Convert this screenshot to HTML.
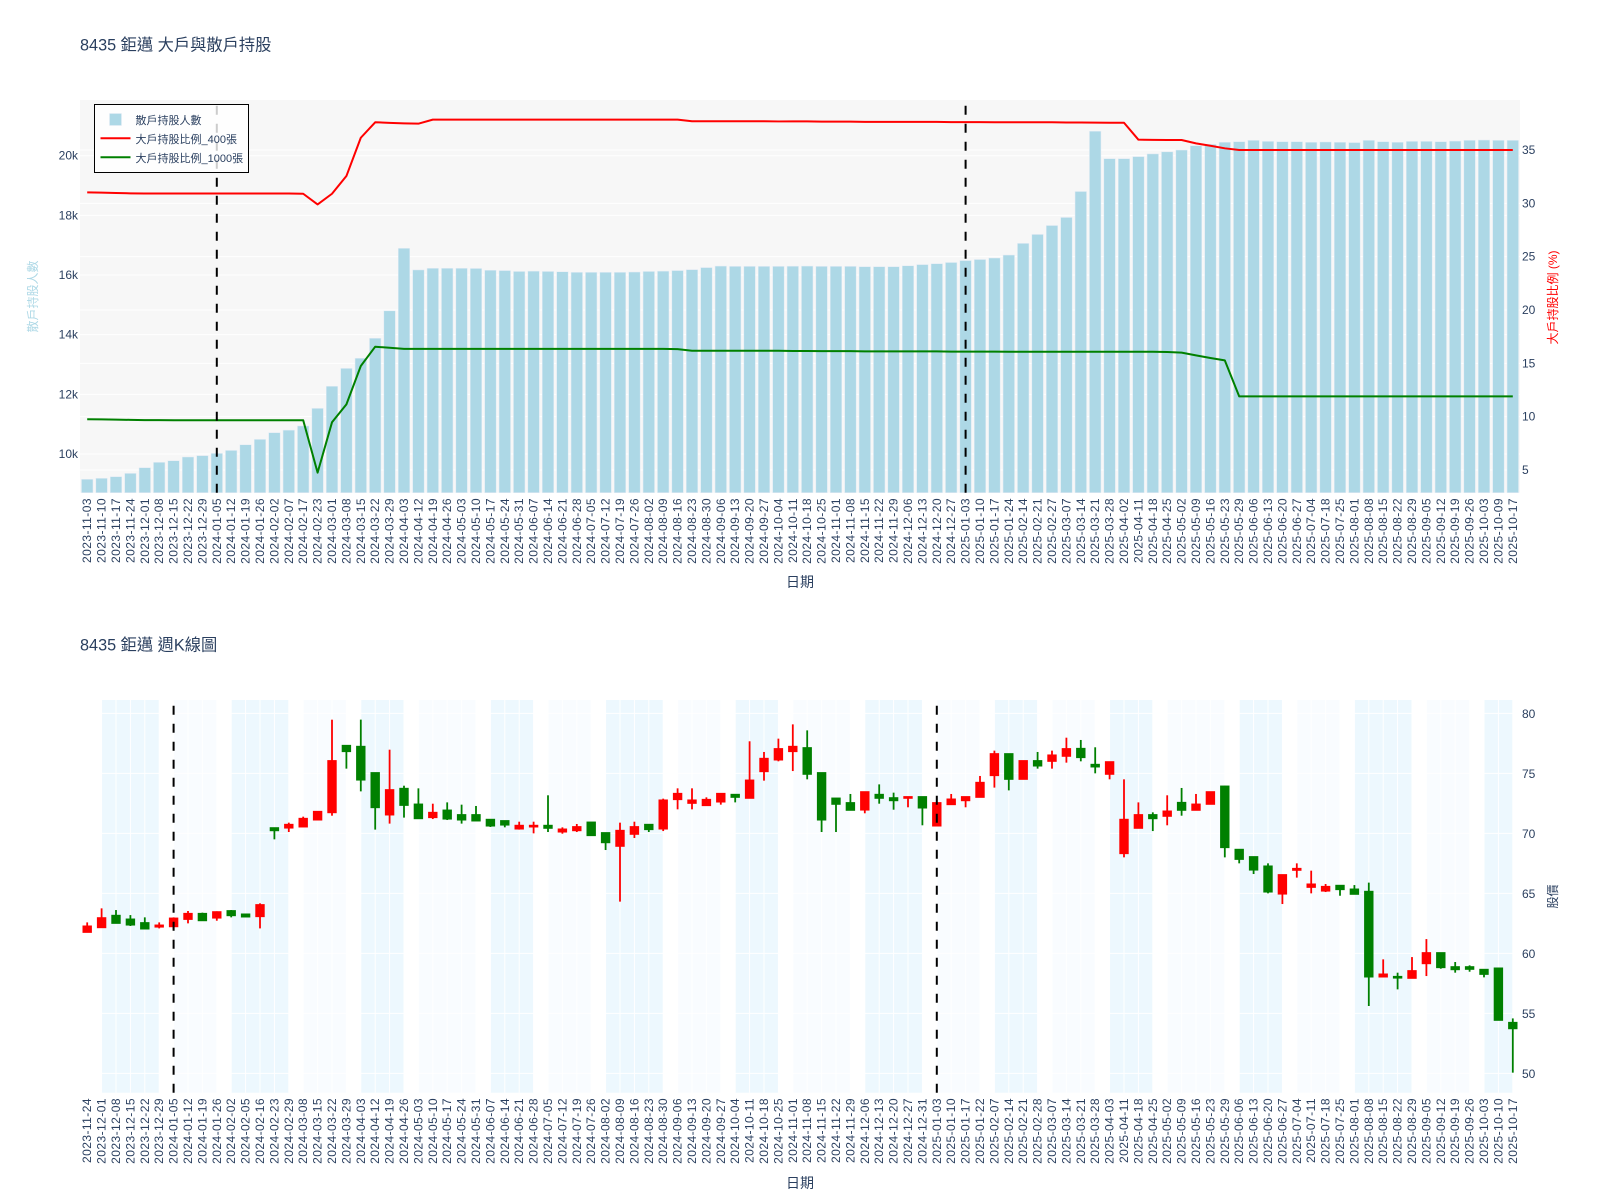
<!DOCTYPE html>
<html lang="zh-Hant">
<head>
<meta charset="utf-8">
<title>8435 鉅邁 大戶與散戶持股</title>
<style>
html,body{margin:0;padding:0;background:#fff;width:1600px;height:1200px;overflow:hidden}
svg{display:block;font-family:"Liberation Sans","Noto Sans CJK TC",sans-serif}
text{fill:#2a3f5f}
.tick{font-size:12px}
.xtick{font-size:12px;letter-spacing:.45px}
</style>
</head>
<body>
<svg id="chart" width="1600" height="1200" viewBox="0 0 1600 1200" xmlns="http://www.w3.org/2000/svg">
  <rect x="0" y="0" width="1600" height="1200" fill="#fff"/>
  <g id="topChart">
    <text x="80" y="50.5" font-size="16.25">8435 鉅邁 大戶與散戶持股</text>
    <rect x="80" y="100" width="1440" height="392.7" fill="#f7f7f7"/>
    <g id="topGrid"></g>
    <g id="topBars"></g>
    <g id="topLines"></g>
    <g id="topMarkers"></g>
    <g id="topTicks"></g>
    <text x="800" y="587" font-size="14" text-anchor="middle">日期</text>
    <text transform="translate(37 296.5) rotate(-90)" font-size="12" text-anchor="middle" style="fill:#add8e6">散戶持股人數</text>
    <text transform="translate(1557 297.5) rotate(-90)" font-size="12" text-anchor="middle" style="fill:#ff0000">大戶持股比例 (%)</text>
    <g>
      <rect x="94.5" y="104.5" width="154" height="68" fill="rgba(255,255,255,.8)" stroke="#000" stroke-width="1"/>
      <rect x="109.5" y="113.5" width="12" height="12" fill="#add8e6" stroke="#e5ecf6" stroke-width=".5"/>
      <text x="135.5" y="124" font-size="11">散戶持股人數</text>
      <line x1="100.5" x2="130.5" y1="138.3" y2="138.3" stroke="#ff0000" stroke-width="2"/>
      <text x="135.5" y="143" font-size="11">大戶持股比例_400張</text>
      <line x1="100.5" x2="130.5" y1="157.3" y2="157.3" stroke="#008000" stroke-width="2"/>
      <text x="135.5" y="162" font-size="11">大戶持股比例_1000張</text>
    </g>
  </g>
  <g id="bottomChart">
    <text x="80" y="650.5" font-size="16.25">8435 鉅邁 週K線圖</text>
    <g id="botBands"></g>
    <g id="botGrid"></g>
    <g id="botCandles"></g>
    <g id="botMarkers"></g>
    <g id="botTicks"></g>
    <text x="800" y="1188" font-size="14" text-anchor="middle">日期</text>
    <text transform="translate(1557 896.5) rotate(-90)" font-size="12" text-anchor="middle">股價</text>
  </g>
</svg>
<script>
/* ---------- holders chart data ---------- */
const topDates = ['2023-11-03','2023-11-10','2023-11-17','2023-11-24','2023-12-01','2023-12-08','2023-12-15','2023-12-22','2023-12-29','2024-01-05','2024-01-12','2024-01-19','2024-01-26','2024-02-02','2024-02-07','2024-02-17','2024-02-23','2024-03-01','2024-03-08','2024-03-15','2024-03-22','2024-03-29','2024-04-03','2024-04-12','2024-04-19','2024-04-26','2024-05-03','2024-05-10','2024-05-17','2024-05-24','2024-05-31','2024-06-07','2024-06-14','2024-06-21','2024-06-28','2024-07-05','2024-07-12','2024-07-19','2024-07-26','2024-08-02','2024-08-09','2024-08-16','2024-08-23','2024-08-30','2024-09-06','2024-09-13','2024-09-20','2024-09-27','2024-10-04','2024-10-11','2024-10-18','2024-10-25','2024-11-01','2024-11-08','2024-11-15','2024-11-22','2024-11-29','2024-12-06','2024-12-13','2024-12-20','2024-12-27','2025-01-03','2025-01-10','2025-01-17','2025-01-24','2025-02-14','2025-02-21','2025-02-27','2025-03-07','2025-03-14','2025-03-21','2025-03-28','2025-04-02','2025-04-11','2025-04-18','2025-04-25','2025-05-02','2025-05-09','2025-05-16','2025-05-23','2025-05-29','2025-06-06','2025-06-13','2025-06-20','2025-06-27','2025-07-04','2025-07-18','2025-07-25','2025-08-01','2025-08-08','2025-08-15','2025-08-22','2025-08-29','2025-09-05','2025-09-12','2025-09-19','2025-09-26','2025-10-03','2025-10-09','2025-10-17'];
const retailHolders = [9152,9185,9240,9350,9542,9720,9775,9900,9945,10020,10120,10310,10490,10715,10800,10940,11530,12270,12870,13210,13880,14800,16895,16170,16225,16225,16225,16220,16160,16150,16120,16130,16120,16110,16090,16090,16090,16090,16100,16120,16130,16150,16180,16250,16300,16290,16290,16290,16290,16295,16300,16290,16290,16290,16280,16280,16280,16310,16350,16380,16420,16485,16520,16570,16670,17060,17360,17660,17930,18800,20820,19900,19900,19970,20060,20130,20190,20335,20380,20450,20470,20515,20480,20470,20470,20450,20460,20450,20440,20515,20470,20450,20480,20480,20470,20490,20515,20525,20515,20515];
const largeHolder400 = [31.03,31.0,30.97,30.94,30.92,30.92,30.92,30.92,30.92,30.92,30.92,30.92,30.92,30.92,30.92,30.9,29.9,30.9,32.56,36.15,37.6,37.55,37.5,37.47,37.85,37.85,37.85,37.85,37.85,37.85,37.85,37.85,37.85,37.85,37.85,37.85,37.85,37.85,37.85,37.85,37.85,37.85,37.7,37.7,37.7,37.7,37.7,37.7,37.68,37.68,37.68,37.66,37.66,37.66,37.64,37.64,37.64,37.64,37.64,37.64,37.62,37.62,37.62,37.6,37.6,37.6,37.6,37.6,37.58,37.58,37.57,37.56,37.56,35.97,35.95,35.94,35.94,35.62,35.4,35.16,35.0,35,35,35,35,35,35,35,35,35,35,35,35,35,35,35,35,35,35,35];
const largeHolder1000 = [9.76,9.74,9.72,9.7,9.68,9.67,9.66,9.66,9.66,9.66,9.66,9.66,9.66,9.66,9.66,9.66,4.75,9.47,11.15,14.75,16.56,16.46,16.36,16.36,16.36,16.36,16.36,16.36,16.36,16.36,16.36,16.36,16.36,16.36,16.36,16.36,16.36,16.36,16.36,16.36,16.36,16.33,16.18,16.18,16.18,16.18,16.18,16.18,16.18,16.16,16.16,16.14,16.14,16.14,16.12,16.12,16.12,16.12,16.12,16.12,16.1,16.1,16.1,16.1,16.08,16.08,16.08,16.08,16.08,16.08,16.08,16.08,16.08,16.08,16.08,16.06,16.0,15.75,15.5,15.28,11.9,11.9,11.9,11.9,11.9,11.9,11.9,11.9,11.9,11.9,11.9,11.9,11.9,11.9,11.9,11.9,11.9,11.9,11.9,11.9];
const leftTicks = [10000,12000,14000,16000,18000,20000];
const rightTicks = [5,10,15,20,25,30,35];
const eventDates = ['2024-01-05','2025-01-03'];

/* ---------- candlestick chart data ---------- */
const kDates = ['2023-11-24','2023-12-01','2023-12-08','2023-12-15','2023-12-22','2023-12-29','2024-01-05','2024-01-12','2024-01-19','2024-01-26','2024-02-02','2024-02-05','2024-02-16','2024-02-23','2024-02-29','2024-03-08','2024-03-15','2024-03-22','2024-03-29','2024-04-03','2024-04-12','2024-04-19','2024-04-26','2024-05-03','2024-05-10','2024-05-17','2024-05-24','2024-05-31','2024-06-07','2024-06-14','2024-06-21','2024-06-28','2024-07-05','2024-07-12','2024-07-19','2024-07-26','2024-08-02','2024-08-09','2024-08-16','2024-08-23','2024-08-30','2024-09-06','2024-09-13','2024-09-20','2024-09-27','2024-10-04','2024-10-11','2024-10-18','2024-10-25','2024-11-01','2024-11-08','2024-11-15','2024-11-22','2024-11-29','2024-12-06','2024-12-13','2024-12-20','2024-12-27','2024-12-31','2025-01-03','2025-01-10','2025-01-17','2025-01-22','2025-02-07','2025-02-14','2025-02-21','2025-02-28','2025-03-07','2025-03-14','2025-03-21','2025-03-28','2025-04-03','2025-04-11','2025-04-18','2025-04-25','2025-05-02','2025-05-09','2025-05-16','2025-05-23','2025-05-29','2025-06-06','2025-06-13','2025-06-20','2025-06-27','2025-07-04','2025-07-11','2025-07-18','2025-07-25','2025-08-01','2025-08-08','2025-08-15','2025-08-22','2025-08-29','2025-09-05','2025-09-12','2025-09-19','2025-09-26','2025-10-03','2025-10-10','2025-10-17'];
const kOpen = [61.75,62.14,63.17,62.86,62.56,62.19,62.22,62.83,63.33,62.94,63.56,63.28,63.06,70.47,70.44,70.53,71.11,71.72,77.33,77.25,75.06,71.53,73.75,72.44,71.31,71.94,71.56,71.56,71.17,71.06,70.36,70.53,70.67,70.11,70.22,70.94,70.06,68.92,69.92,70.75,70.36,72.81,72.5,72.31,72.61,73.25,72.92,75.14,76.11,76.81,77.14,75.06,72.94,72.56,71.94,73.25,72.97,72.92,73.06,70.61,72.39,72.72,73.0,74.81,76.64,74.5,76.06,76.0,76.42,77.08,75.75,74.92,68.31,70.42,71.56,71.42,72.58,71.92,72.42,73.94,68.67,68.06,67.28,64.94,66.92,65.5,65.19,65.67,65.36,65.17,58.03,58.08,57.92,59.14,60.06,58.89,58.89,58.67,58.78,54.25];
const kHigh = [62.58,63.75,63.61,63.19,63.0,62.58,63.0,63.53,63.39,63.5,63.61,63.28,64.17,70.47,70.89,71.39,71.83,79.47,77.33,79.47,75.06,76.97,73.97,73.75,72.47,72.58,72.39,72.28,71.17,71.06,70.97,70.97,73.17,70.5,70.78,70.94,70.06,70.89,70.97,70.78,72.89,73.75,73.75,73.0,73.33,73.25,77.67,76.78,77.89,79.08,78.58,75.06,72.94,73.28,73.47,74.08,73.39,73.06,73.06,72.56,73.28,73.06,74.78,76.89,76.64,76.06,76.78,76.89,77.97,77.78,77.17,75.97,74.5,72.58,71.75,73.17,73.78,73.28,73.47,73.97,68.67,68.06,67.5,66.56,67.5,66.89,65.78,65.67,65.69,65.89,59.5,58.39,59.69,61.19,60.06,59.28,59.0,58.67,58.78,54.58];
const kLow = [61.75,62.14,62.5,62.28,62.03,62.08,62.0,62.5,62.72,62.72,63.0,63.03,62.08,69.5,70.11,70.53,71.11,71.47,75.39,73.5,70.31,70.81,71.31,71.22,71.19,71.11,70.81,71.03,70.53,70.5,70.31,70.0,70.11,69.97,70.11,69.78,68.61,64.31,69.61,70.11,70.19,72.0,72.0,72.31,72.39,72.58,72.92,74.39,76.0,75.19,74.5,70.11,70.11,71.92,71.67,72.47,71.97,72.17,70.67,70.61,72.39,72.17,73.0,73.81,73.58,74.5,75.39,75.39,75.89,76.0,75.0,74.5,68.0,70.42,70.19,70.67,71.47,71.92,72.42,68.0,67.5,66.61,65.0,64.11,66.31,65.0,65.11,64.8,64.92,55.61,58.03,57.0,57.92,58.11,58.72,58.39,58.47,58.0,54.42,50.06];
const kClose = [62.28,62.97,62.5,62.36,62.03,62.36,62.94,63.33,62.72,63.47,63.14,63.03,64.06,70.22,70.75,71.25,71.83,76.06,76.81,74.44,72.14,73.64,72.33,71.22,71.75,71.19,71.11,71.03,70.61,70.69,70.67,70.67,70.42,70.36,70.56,69.81,69.22,70.25,70.56,70.31,72.78,73.33,72.78,72.83,73.33,73.0,74.44,76.25,77.06,77.25,74.92,71.11,72.42,71.92,73.47,72.92,72.72,73.06,72.11,72.56,72.86,73.06,74.25,76.64,74.5,76.06,75.61,76.53,77.06,76.31,75.53,75.97,71.17,71.56,71.22,71.86,71.92,72.44,73.47,68.81,67.83,66.94,65.11,66.56,67.08,65.78,65.58,65.31,64.92,58.03,58.28,57.94,58.56,60.06,58.81,58.64,58.67,58.25,54.42,53.72];
const priceTicks = [50,55,60,65,70,75,80];

/* ---------- axis functions ---------- */
const plotLeft = 80, plotWidth = 1440;
const topPlotTop = 100, topPlotBottom = 492.7;
const botPlotTop = 700, botPlotBottom = 1092.7;
const leftRange = [8703, 21867];
const rightRange = [2.87, 39.69];
const priceRange = [48.39, 81.11];
function xTop(i){ return plotLeft + plotWidth * (i + 0.5) / topDates.length; }
function xBot(i){ return plotLeft + plotWidth * (i + 0.5) / kDates.length; }
function scaleY(v, range, top, bottom){ return bottom - (v - range[0]) / (range[1] - range[0]) * (bottom - top); }
function yLeft(v){ return scaleY(v, leftRange, topPlotTop, topPlotBottom); }
function yRight(v){ return scaleY(v, rightRange, topPlotTop, topPlotBottom); }
function yPrice(v){ return scaleY(v, priceRange, botPlotTop, botPlotBottom); }

const NS = 'http://www.w3.org/2000/svg';
function mk(parentId, tag, attrs, text){
  const el = document.createElementNS(NS, tag);
  for (const k in attrs) el.setAttribute(k, attrs[k]);
  if (text !== undefined) el.textContent = text;
  document.getElementById(parentId).appendChild(el);
  return el;
}

/* ---------- holders chart ---------- */
leftTicks.forEach(function(v){
  const g = mk('topGrid', 'line', {x1: plotLeft, x2: plotLeft + plotWidth, y1: yLeft(v), y2: yLeft(v), stroke: '#fff', 'stroke-width': 1});
  
  
  const t = mk('topTicks', 'text', {class: 'tick', x: 78, y: yLeft(v) + 4, 'text-anchor': 'end'}, (v / 1000) + 'k');
  
  
});
rightTicks.forEach(function(v){
  const g = mk('topGrid', 'line', {x1: plotLeft, x2: plotLeft + plotWidth, y1: yRight(v), y2: yRight(v), stroke: '#fff', 'stroke-width': 1});
  
  
  const t = mk('topTicks', 'text', {class: 'tick', x: 1522, y: yRight(v) + 4}, String(v));
  
  
});
retailHolders.forEach(function(v, i){
  const w = plotWidth / topDates.length * 0.8;
  const b = mk('topBars', 'rect', {x: xTop(i) - w / 2, y: yLeft(v), width: w, height: topPlotBottom - yLeft(v), fill: '#add8e6', stroke: '#e5ecf6', 'stroke-width': 0.5});
  
  
});
const line400 = mk('topLines', 'polyline', {points: largeHolder400.map(function(v, i){ return xTop(i) + ',' + yRight(v); }).join(' '), fill: 'none', stroke: '#ff0000', 'stroke-width': 2, 'stroke-linejoin': 'round'});


const line1000 = mk('topLines', 'polyline', {points: largeHolder1000.map(function(v, i){ return xTop(i) + ',' + yRight(v); }).join(' '), fill: 'none', stroke: '#008000', 'stroke-width': 2, 'stroke-linejoin': 'round'});


eventDates.forEach(function(d){
  const x = xTop(topDates.indexOf(d));
  const m = mk('topMarkers', 'line', {x1: x, x2: x, y1: topPlotBottom, y2: topPlotTop, stroke: '#000', 'stroke-width': 2, 'stroke-dasharray': '9,9'});
  
  
});
topDates.forEach(function(d, i){
  const x = xTop(i) + 4;
  const t = mk('topTicks', 'text', {class: 'xtick', x: x, y: 498, 'text-anchor': 'end', transform: 'rotate(-90 ' + x + ' 498)'}, d);
  
  
});

/* ---------- candlestick chart ---------- */
(function(){
  let start = 0;
  for (let i = 1; i <= kDates.length; i++) {
    const prev = kDates[i - 1].slice(0, 7);
    if (i === kDates.length || kDates[i].slice(0, 7) !== prev) {
      const month = parseInt(prev.slice(5), 10);
      const band = mk('botBands', 'rect', {x: xBot(start), y: botPlotTop, width: xBot(i - 1) - xBot(start), height: botPlotBottom - botPlotTop, fill: month % 2 === 0 ? '#edf8fe' : '#f9fcff'});
      
      
      start = i;
    }
  }
})();
priceTicks.forEach(function(v){
  const g = mk('botGrid', 'line', {x1: plotLeft, x2: plotLeft + plotWidth, y1: yPrice(v), y2: yPrice(v), stroke: '#fff', 'stroke-width': 1});
  
  
  const t = mk('botTicks', 'text', {class: 'tick', x: 1522, y: yPrice(v) + 4.5}, String(v));
  
  
});
kDates.forEach(function(d, i){
  const g = mk('botGrid', 'line', {x1: xBot(i), x2: xBot(i), y1: botPlotTop, y2: botPlotBottom, stroke: '#fff', 'stroke-width': 1});
  
  
  const x = xBot(i) + 4;
  const t = mk('botTicks', 'text', {class: 'xtick', x: x, y: 1098, 'text-anchor': 'end', transform: 'rotate(-90 ' + x + ' 1098)'}, d);
  
  
});
kDates.forEach(function(d, i){
  const up = kClose[i] >= kOpen[i];
  const color = up ? '#ff0000' : '#008000';
  const x = xBot(i);
  const wick = mk('botCandles', 'line', {x1: x, x2: x, y1: yPrice(kHigh[i]), y2: yPrice(kLow[i]), stroke: color, 'stroke-width': 1.8});
  
  
  const top = yPrice(Math.max(kOpen[i], kClose[i]));
  const bottom = yPrice(Math.min(kOpen[i], kClose[i]));
  const body = mk('botCandles', 'rect', {x: x - 4.2, y: top, width: 8.4, height: bottom - top, fill: color, stroke: color, 'stroke-width': 1});
  
  
});
eventDates.forEach(function(d){
  const x = xBot(kDates.indexOf(d));
  const m = mk('botMarkers', 'line', {x1: x, x2: x, y1: botPlotBottom, y2: botPlotTop, stroke: '#000', 'stroke-width': 2, 'stroke-dasharray': '9,9'});
  
  
});
</script>
</body>
</html>
